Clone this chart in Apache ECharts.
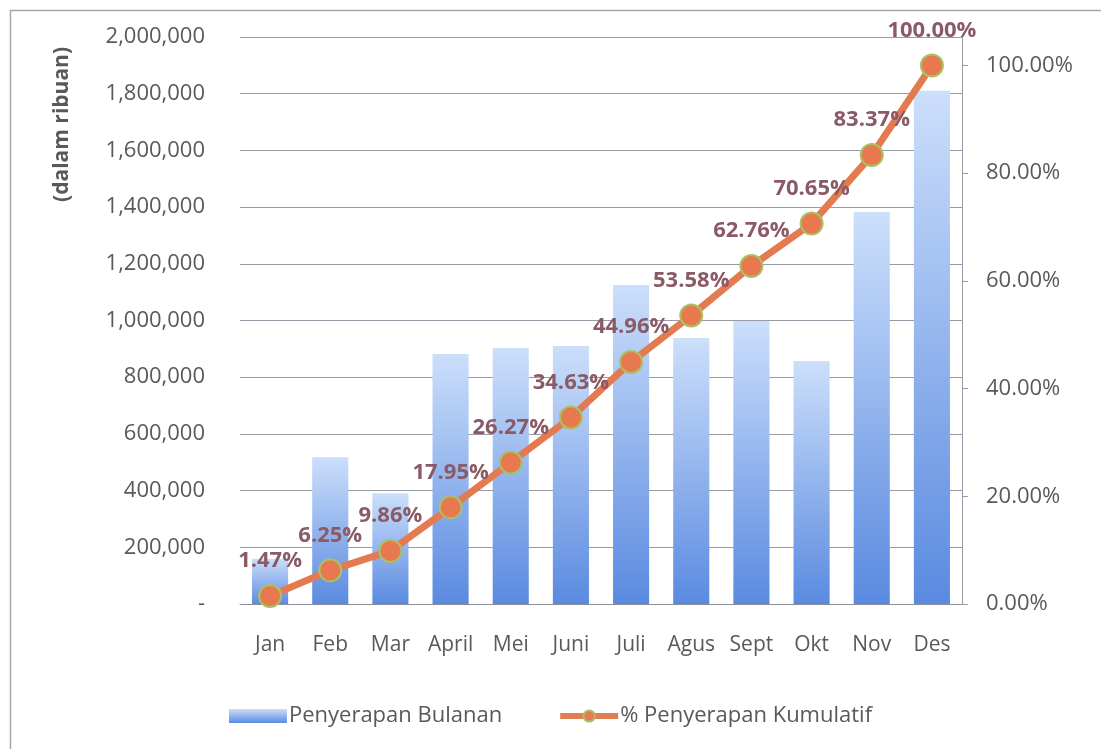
<!DOCTYPE html>
<html>
<head>
<meta charset="utf-8">
<script src="https://cdn.jsdelivr.net/npm/echarts@6/dist/echarts.min.js"></script>
<style>
html,body{margin:0;padding:0;background:#fff;}
#c{width:1101px;height:749px;}
</style>
</head>
<body>
<div id="c"></div>
<script>
const categories = ['Jan','Feb','Mar','April','Mei','Juni','Juli','Agus','Sept','Okt','Nov','Des'];
const monthly = [160000, 518000, 391000, 882000, 903000, 910000, 1125000, 938000, 998000, 857000, 1383000, 1810000];
const cumulativePct = [1.47, 6.25, 9.86, 17.95, 26.27, 34.63, 44.96, 53.58, 62.76, 70.65, 83.37, 100.00];
const seriesNames = ['Penyerapan Bulanan', '% Penyerapan Kumulatif'];
const axisTitle = '(dalam ribuan)';

const FONT = 'Open Sans';
const TXT = '#595959';
const barGrad = new echarts.graphic.LinearGradient(0, 0, 0, 1, [
  {offset: 0, color: '#CCDFFB'},
  {offset: 1, color: '#5A8AE0'}
]);

const chart = echarts.init(document.getElementById('c'));
chart.setOption({
  animation: false,
  backgroundColor: '#fff',
  textStyle: {fontFamily: FONT},
  graphic: [
    {type: 'rect', left: 8, top: 8, shape: {width: 1200, height: 900}, style: {fill: 'none', stroke: '#A6A6B0', lineWidth: 1.5}, silent: true},
    {type: 'text', left: 52, top: 47, rotation: Math.PI / 2, style: {text: axisTitle, font: 'bold 21px "Open Sans"', fill: TXT}}
  ],
  grid: {left: 240, right: 139, top: 37, bottom: 145},
  legend: {
    top: 700, left: 'center', itemGap: 55, itemWidth: 58, itemHeight: 14,
    textStyle: {fontFamily: FONT, fontSize: 22, color: TXT, padding: [0, 0, 0, -3]},
    data: [
      {name: seriesNames[0], icon: 'rect'},
      {name: seriesNames[1], lineStyle: {width: 6, color: '#E27E55'}}
    ]
  },
  xAxis: {
    type: 'category', data: categories,
    axisLine: {lineStyle: {color: '#8C8C96', width: 1}},
    axisTick: {show: false},
    axisLabel: {color: TXT, fontSize: 21, fontFamily: FONT, margin: 31, interval: 0}
  },
  yAxis: [
    {
      type: 'value', min: 0, max: 2000000, interval: 200000,
      axisLine: {show: false}, axisTick: {show: false},
      axisLabel: {color: TXT, fontSize: 22, fontFamily: FONT, margin: 35,
        formatter: v => v === 0 ? '-' : v.toLocaleString('en-US')},
      splitLine: {lineStyle: {color: '#9A9AA6', width: 1}}
    },
    {
      type: 'value', min: 0, max: 105.3, interval: 20, position: 'right',
      axisLine: {show: true, lineStyle: {color: '#9A9AA6', width: 1}},
      axisTick: {show: true, inside: false, length: 6, lineStyle: {color: '#9A9AA6'}},
      axisLabel: {color: TXT, fontSize: 22, fontFamily: FONT, margin: 24, showMaxLabel: false,
        formatter: v => v.toFixed(2) + '%'},
      splitLine: {show: false}
    }
  ],
  series: [
    {
      name: seriesNames[0], type: 'bar', data: monthly, barWidth: '60%',
      itemStyle: {color: barGrad}, z: 2
    },
    {
      name: seriesNames[1], type: 'line', yAxisIndex: 1, data: cumulativePct,
      symbol: 'circle', symbolSize: 22,
      lineStyle: {color: '#E47A50', width: 7},
      itemStyle: {color: '#E8794E', borderColor: '#A8C066', borderWidth: 2},
      label: {
        show: true, position: 'top', distance: 12,
        formatter: p => p.value.toFixed(2) + '%',
        color: '#8A5A66', fontSize: 22, fontWeight: 'bold', fontFamily: FONT
      },
      z: 5
    }
  ]
});
</script>
</body>
</html>
